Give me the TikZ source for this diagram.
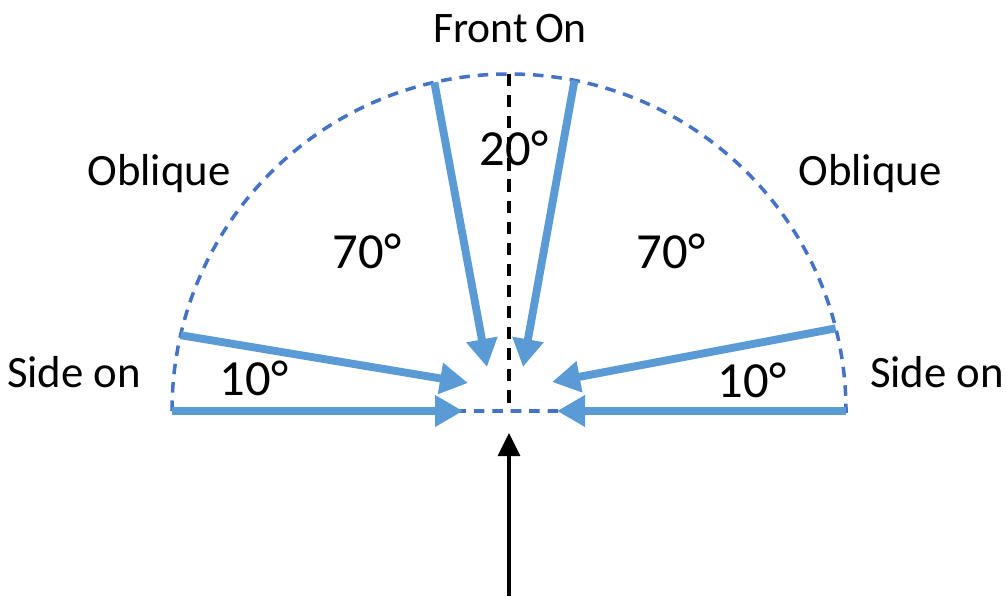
\documentclass[tikz,border=0pt]{standalone}
\usepackage{fontspec}
\setmainfont{Carlito}
\usetikzlibrary{arrows.meta,calc}

\definecolor{beamblue}{HTML}{5B9BD5}
\definecolor{rimblue}{HTML}{4472C4}

\begin{document}
\begin{tikzpicture}[x=0.02cm, y=0.02cm,
  beam/.style={-{Triangle[length=0.56cm, width=0.6cm]}, line width=4.5pt, beamblue},
  rim/.style={rimblue, line width=2pt, dash pattern=on 6pt off 4.5pt},
  axis/.style={black, line width=2pt, dash pattern=on 7pt off 5pt},
  view/.style={font=\fontsize{25.5}{30}\selectfont, anchor=base},
  deg/.style={font=\fontsize{28.8}{34}\selectfont, anchor=base}
]
\useasboundingbox (0,0) rectangle (1006,596);

% centre of the half circle and the rim
\coordinate (c) at (509,185);
\draw[rim] ($(c)+(180:337)$) coordinate (w)
  arc[start angle=180, end angle=0, radius=337] coordinate (e) -- cycle;

% points on the rim where the views start
\coordinate (l10) at ($(c)+(167:337)$);
\coordinate (l70) at ($(c)+(102.8:337)$);
\coordinate (r70) at ($(c)+(78.8:337)$);
\coordinate (r10) at ($(c)+(14.2:337)$);
\coordinate (top) at ($(c)+(90:337)$);

% tips near the centre
\coordinate (tw) at (463,185);
\coordinate (tl10) at (468,213);
\coordinate (tl70) at (487,229);
\coordinate (tr70) at (523,229);
\coordinate (tr10) at (552,214);
\coordinate (te) at (557,185);

% Axis
\draw[axis] (top) -- (c);
\coordinate (foot) at (509,0);
\coordinate (head) at (509,163);
\draw[-{Triangle[length=0.46cm, width=0.44cm]}, line width=1.8pt] (foot) -- (head);

% Views
\draw[beam] (w) -- (tw);
\draw[beam] (l10) -- (tl10);
\draw[beam] (l70) -- (tl70);
\draw[beam] (r70) -- (tr70);
\draw[beam] (r10) -- (tr10);
\draw[beam] (e) -- (te);

% Labels
\node[view, font=\fontsize{24.8}{30}\selectfont] (front) at (510,553) {Front\,On};
\node[view] (oblL) at (159,411) {Oblique};
\node[view] (oblR) at (870,411) {Oblique};
\node[view] (sideL) at (74,209) {Side on};
\node[view] (sideR) at (937,209) {Side on};
\node[deg] (d20) at (514,431) {20°};
\node[deg] (d70L) at (367,328) {70°};
\node[deg] (d70R) at (671,328) {70°};
\node[deg] (d10L) at (254,201) {10°};
\node[deg] (d10R) at (752,199) {10°};
\end{tikzpicture}
\end{document}
